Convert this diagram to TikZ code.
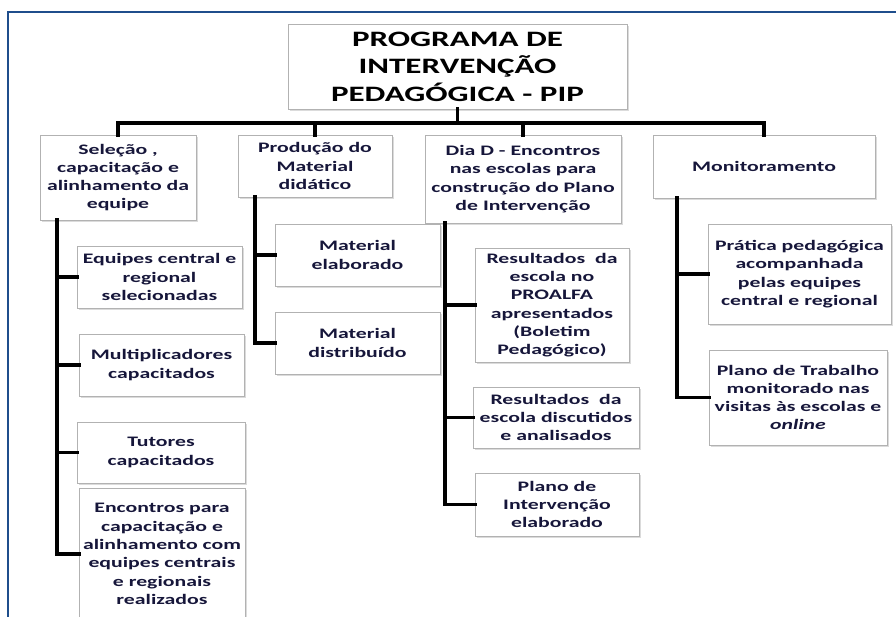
\documentclass[tikz,border=0pt]{standalone}
\usepackage{fontspec}
\setmainfont{Carlito}
\newfontfamily\boxfont[FakeStretch=1.5]{Carlito}
\usetikzlibrary{shadows}
\definecolor{frameblue}{RGB}{31,78,140}
\definecolor{txtnavy}{RGB}{22,22,58}
\tikzset{
  box/.style={draw=gray!60, fill=white, inner sep=0pt, align=center,
    text=txtnavy, font=\boxfont\bfseries\fontsize{14.5}{18.3}\selectfont,
    drop shadow={shadow xshift=2pt, shadow yshift=-2pt, fill=gray!55}},
  titlebox/.style={box, font=\boxfont\bfseries\fontsize{22}{27.5}\selectfont, text=black},
  conn/.style={line width=3.5pt, line cap=rect}
}
\begin{document}
\begin{tikzpicture}[x=1pt, y=-1pt]
        \clip (0,0) rectangle (896,616);
        \fill[white] (0,0) rectangle (896,616);
        \draw[frameblue, line width=2pt] (8,620) -- (8,12) -- (900,12);

        \node[titlebox, minimum width=339pt, minimum height=85pt] (pip) at (457.5,66.5) {PROGRAMA DE\\INTERVENÇÃO\\PEDAGÓGICA - PIP};

        \node[box, minimum width=156pt, minimum height=85pt] (sel) at (118,177.5) {Seleção ,\\capacitação e\\alinhamento da\\equipe};
        \node[box, minimum width=154pt, minimum height=62pt] (prod) at (315,166) {Produção do\\Material\\didático};
        \node[box, minimum width=196pt, minimum height=88pt] (diad) at (523,179) {Dia D - Encontros\\nas escolas para\\construção do Plano\\de Intervenção};
        \node[box, minimum width=222pt, minimum height=63pt] (mon) at (764,166.5) {Monitoramento};

        \node[box, minimum width=165pt, minimum height=62pt] (equipes) at (159.5,277) {Equipes central e\\regional\\selecionadas};
        \node[box, minimum width=165pt, minimum height=62pt] (multi) at (161.5,365) {Multiplicadores\\capacitados};
        \node[box, minimum width=168pt, minimum height=61pt] (tutores) at (161,452.5) {Tutores\\capacitados};
        \node[box, minimum width=166pt, minimum height=132pt] (encontros) at (162,554) {Encontros para\\capacitação e\\alinhamento com\\equipes centrais\\e regionais\\realizados};

        \node[box, minimum width=165pt, minimum height=62pt] (elab) at (357.5,255) {Material\\elaborado};
        \node[box, minimum width=165pt, minimum height=62pt] (distr) at (357.5,343) {Material\\distribuído};

        \node[box, minimum width=154pt, minimum height=114pt] (proalfa) at (552,305) {Resultados~~da\\escola no\\PROALFA\\apresentados\\(Boletim\\Pedagógico)};
        \node[box, minimum width=166pt, minimum height=61pt] (discut) at (556,417.5) {Resultados~~da\\escola discutidos\\e analisados};
        \node[box, minimum width=164pt, minimum height=63pt] (plano) at (557,504.5) {Plano de\\Intervenção\\elaborado};

        \node[box, minimum width=183pt, minimum height=100pt] (pratica) at (799.5,274) {Prática pedagógica\\acompanhada\\pelas equipes\\central e regional};
        \node[box, minimum width=178pt, minimum height=95pt] (trabalho) at (798,397.5) {Plano de Trabalho\\monitorado nas\\visitas às escolas e\\\textit{online}};

        % tree from the title
        \draw[conn] (pip.south) -- ++(0,14) coordinate (hub);
        \draw[conn] (hub) -| (sel.north);
        \draw[conn] (hub) -| (prod.north);
        \draw[conn] (hub) -| (diad.north);
        \draw[conn] (hub) -| (mon.north);

        % branches of each column
        \draw[conn] ([xshift=17pt]sel.south west) |- (equipes.west);
        \draw[conn] ([xshift=17pt]sel.south west) |- (multi.west);
        \draw[conn] ([xshift=17pt]sel.south west) |- (tutores.west);
        \draw[conn] ([xshift=17pt]sel.south west) |- (encontros.west);
        \draw[conn] ([xshift=17pt]prod.south west) |- (elab.west);
        \draw[conn] ([xshift=17pt]prod.south west) |- (distr.west);
        \draw[conn] ([xshift=20pt]diad.south west) |- (proalfa.west);
        \draw[conn] ([xshift=20pt]diad.south west) |- (discut.west);
        \draw[conn] ([xshift=20pt]diad.south west) |- (plano.west);
        \draw[conn] ([xshift=24pt]mon.south west) |- (pratica.west);
        \draw[conn] ([xshift=24pt]mon.south west) |- (trabalho.west);
\end{tikzpicture}
\end{document}
